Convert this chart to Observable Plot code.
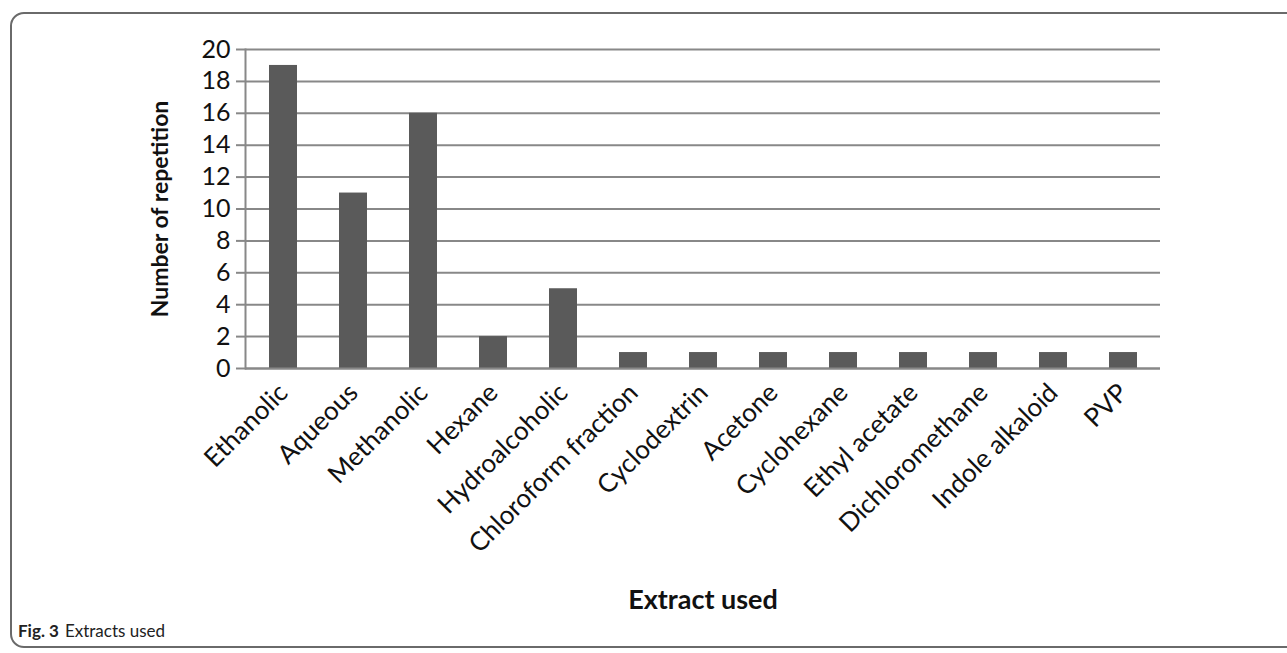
<!DOCTYPE html>
<html>
<head>
<meta charset="utf-8">
<script src="https://cdn.jsdelivr.net/npm/d3@7"></script>
<script src="https://cdn.jsdelivr.net/npm/@observablehq/plot@0.6"></script>
<style>
  html, body { margin: 0; padding: 0; background: #fff; width: 1287px; height: 653px; overflow: hidden; }
  #frame { position: absolute; left: 10px; top: 12px; width: 1320px; height: 636px; border: 2px solid #6a6a6a; border-radius: 14px; box-sizing: border-box; }
  #chart { position: absolute; left: 0; top: 0; }
  #caption { position: absolute; left: 18px; top: 620px; font-family: Lato, "Open Sans", sans-serif; font-size: 17px; color: #222; }
  #caption b { font-weight: bold; margin-right: 6px; }
  [aria-label="x-axis label"] text { font-weight: bold; font-size: 27px; }
  [aria-label="y-axis label"] text { font-weight: bold; font-size: 23px; }
</style>
</head>
<body>
<div id="frame"></div>
<div id="chart"></div>
<div id="caption"><b>Fig. 3</b>Extracts used</div>
<script>
const categories = ["Ethanolic", "Aqueous", "Methanolic", "Hexane", "Hydroalcoholic", "Chloroform fraction", "Cyclodextrin", "Acetone", "Cyclohexane", "Ethyl acetate", "Dichloromethane", "Indole alkaloid", "PVP"];
const counts = [19, 11, 16, 2, 5, 1, 1, 1, 1, 1, 1, 1, 1];
const yTicks = [0, 2, 4, 6, 8, 10, 12, 14, 16, 18, 20];

const data = categories.map((c, i) => ({extract: c, count: counts[i]}));

const chart = Plot.plot({
  width: 1287,
  height: 630,
  marginLeft: 245,
  marginRight: 127,
  marginTop: 49,
  marginBottom: 262,
  style: {fontFamily: "Lato, 'Open Sans', sans-serif", color: "#111", background: "transparent"},
  x: {domain: categories, paddingInner: 0.6, paddingOuter: 0.3, label: null},
  y: {domain: [0, 20], label: null},
  marks: [
    Plot.gridY(yTicks, {stroke: "#888", strokeOpacity: 1, strokeWidth: 2}),
    Plot.frame({anchor: "left", stroke: "#888", strokeWidth: 2}),
    Plot.barY(data, {x: "extract", y: "count", fill: "#5a5a5a"}),
    Plot.ruleY([0], {stroke: "#888", strokeWidth: 2}),
    Plot.axisY({ticks: yTicks, tickSize: 9, tickPadding: 6, fontSize: 25, stroke: "#888", strokeWidth: 2, tickFormat: d => d, label: "Number of repetition", labelArrow: "none", labelAnchor: "center", labelOffset: 94}),
    Plot.axisX({tickSize: 0, tickRotate: -45, fontSize: 26, tickPadding: 20, label: "Extract used", labelArrow: "none", labelAnchor: "center", labelOffset: 240})
  ]
});
document.getElementById("chart").appendChild(chart);
</script>
</body>
</html>
